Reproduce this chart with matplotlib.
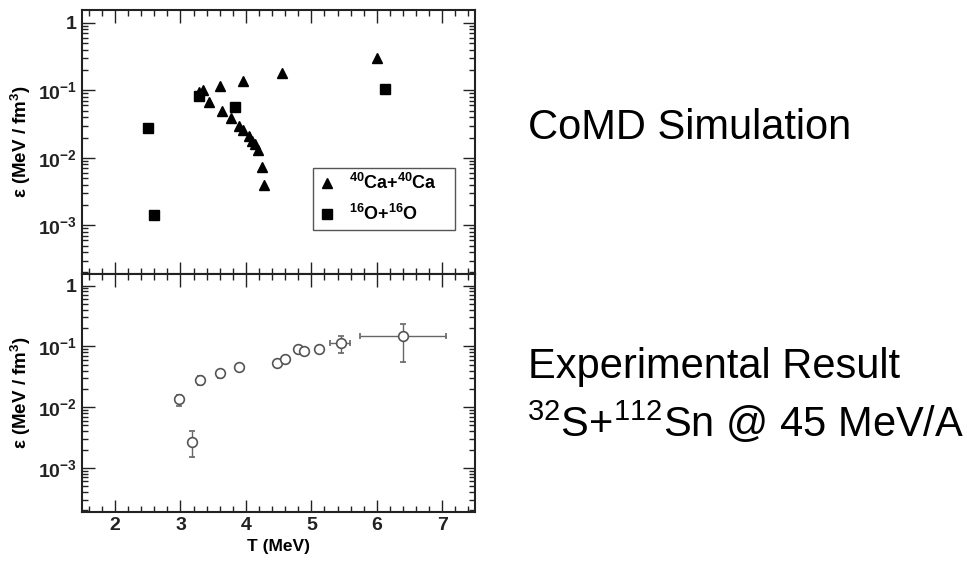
import matplotlib
matplotlib.use('Agg')
import numpy as np
import matplotlib.pyplot as plt
from matplotlib.ticker import LogLocator, MultipleLocator, FuncFormatter, NullFormatter
from matplotlib.lines import Line2D

plt.rcParams['font.family'] = ['Liberation Sans', 'DejaVu Sans']
plt.rcParams['mathtext.default'] = 'regular'
plt.rcParams['font.weight'] = 'bold'
plt.rcParams['axes.labelweight'] = 'bold'

# ---- CoMD simulation (top panel) ----
ca_T = [3.29, 3.35, 3.44, 3.61, 3.63, 3.77, 3.96, 3.90, 3.96, 4.04, 4.10, 4.14, 4.19, 4.25, 4.28, 4.55, 6.01]
ca_eps = [0.094, 0.102, 0.067, 0.115, 0.049, 0.039, 0.137, 0.030, 0.0255, 0.0214, 0.018, 0.0158, 0.0129,
          0.0074, 0.0039, 0.18, 0.30]
o_T = [2.50, 2.59, 3.29, 3.83, 6.12]
o_eps = [0.0275, 0.00142, 0.082, 0.0565, 0.106]

# ---- Experimental result (bottom panel) ----
exp_T = [2.98, 3.18, 3.30, 3.60, 3.89, 4.48, 4.59, 4.80, 4.89, 5.11, 5.45, 6.40]
exp_eps = [0.0137, 0.0027, 0.028, 0.036, 0.046, 0.054, 0.062, 0.089, 0.084, 0.089, 0.114, 0.147]
exp_eps_lo = [0.0105, 0.0015, 0.023, 0.030, 0.040, 0.050, 0.057, 0.083, 0.078, 0.083, 0.077, 0.056]
exp_eps_hi = [0.016, 0.0040, 0.032, 0.040, 0.051, 0.058, 0.066, 0.094, 0.089, 0.094, 0.147, 0.237]
exp_T_lo = [2.98, 3.18, 3.30, 3.60, 3.89, 4.48, 4.59, 4.80, 4.89, 5.11, 5.29, 5.75]
exp_T_hi = [2.98, 3.18, 3.30, 3.60, 3.89, 4.48, 4.59, 4.80, 4.89, 5.11, 5.59, 7.05]

x_ticks = [2, 3, 4, 5, 6, 7]
labels_legend = [r'$^{40}$Ca+$^{40}$Ca', r'$^{16}$O+$^{16}$O']
xlabel = 'T (MeV)'
ylabel = r'ε (MeV / fm$^{3}$)'
text_top = 'CoMD Simulation'
text_bot1 = 'Experimental Result'
text_bot2 = r'$^{32}$S+$^{112}$Sn @ 45 MeV/A'

fig = plt.figure(figsize=(9.67, 5.61), dpi=100)
ax1 = fig.add_axes([0.0851, 0.5116, 0.4061, 0.4706])
ax2 = fig.add_axes([0.0851, 0.0879, 0.4061, 0.4237])


def yfmt(v, pos):
    k = int(round(np.log10(v)))
    if k == 0:
        return '1'
    return r'$10^{%d}$' % k


for ax in (ax1, ax2):
    ax.set_yscale('log')
    ax.set_xlim(1.5, 7.5)
    ax.set_ylim(1.9e-4, 1.55)
    ax.set_xticks(x_ticks)
    ax.xaxis.set_minor_locator(MultipleLocator(0.2))
    ax.yaxis.set_major_locator(LogLocator(base=10, numticks=10))
    ax.yaxis.set_minor_locator(LogLocator(base=10, subs=np.arange(2, 10), numticks=20))
    ax.yaxis.set_minor_formatter(NullFormatter())
    ax.yaxis.set_major_formatter(FuncFormatter(yfmt))
    ax.tick_params(which='both', direction='in', top=True, right=True, width=1.0, colors='#222222')
    ax.tick_params(which='major', length=9, labelsize=14, pad=4)
    ax.tick_params(which='minor', length=4.5)
    for s in ax.spines.values():
        s.set_linewidth(1.5)
        s.set_color('#222222')
    ax.set_ylabel(ylabel, fontsize=13.5)
    ax.yaxis.set_label_coords(-0.126, 0.5)

ax1.tick_params(labelbottom=False)

# top panel
ax1.plot(ca_T, ca_eps, linestyle='none', marker='^', markersize=7, color='black')
ax1.plot(o_T, o_eps, linestyle='none', marker='s', markersize=6.5, color='black')
handles = [Line2D([], [], linestyle='none', marker='^', markersize=7, color='black'),
           Line2D([], [], linestyle='none', marker='s', markersize=6.5, color='black')]
leg = ax1.legend(handles, labels_legend, loc='upper left', bbox_to_anchor=(0.587, 0.193, 0.362, 0.209),
                 mode='expand', borderaxespad=0, frameon=True, fancybox=False, edgecolor='#555555',
                 framealpha=1, prop={'size': 13, 'weight': 'bold'}, handlelength=1.0, handletextpad=0.7,
                 borderpad=0.3, labelspacing=0.6)
leg.get_frame().set_linewidth(1.0)

# bottom panel
ey = np.array([np.array(exp_eps) - np.array(exp_eps_lo), np.array(exp_eps_hi) - np.array(exp_eps)])
ex = np.array([np.array(exp_T) - np.array(exp_T_lo), np.array(exp_T_hi) - np.array(exp_T)])
ax2.errorbar(exp_T, exp_eps, yerr=ey, xerr=ex, linestyle='none', marker='o', markersize=7,
             markerfacecolor='white', markeredgecolor='#555555', markeredgewidth=1.2,
             ecolor='#666666', elinewidth=1.0, capsize=2)
ax2.set_xlabel(xlabel, fontsize=12.5)
ax2.xaxis.set_label_coords(0.5, -0.115)

# right texts
fig.text(528 / 967, 1 - 139 / 561, text_top, fontsize=30, fontweight='normal', va='baseline', ha='left')
fig.text(528 / 967, 1 - 378.3 / 561, text_bot1, fontsize=30, fontweight='normal', va='baseline', ha='left')
fig.text(527 / 967, 1 - 436.7 / 561, text_bot2, fontsize=30, fontweight='normal', va='baseline', ha='left')

fig.savefig('out.png', dpi=100)
